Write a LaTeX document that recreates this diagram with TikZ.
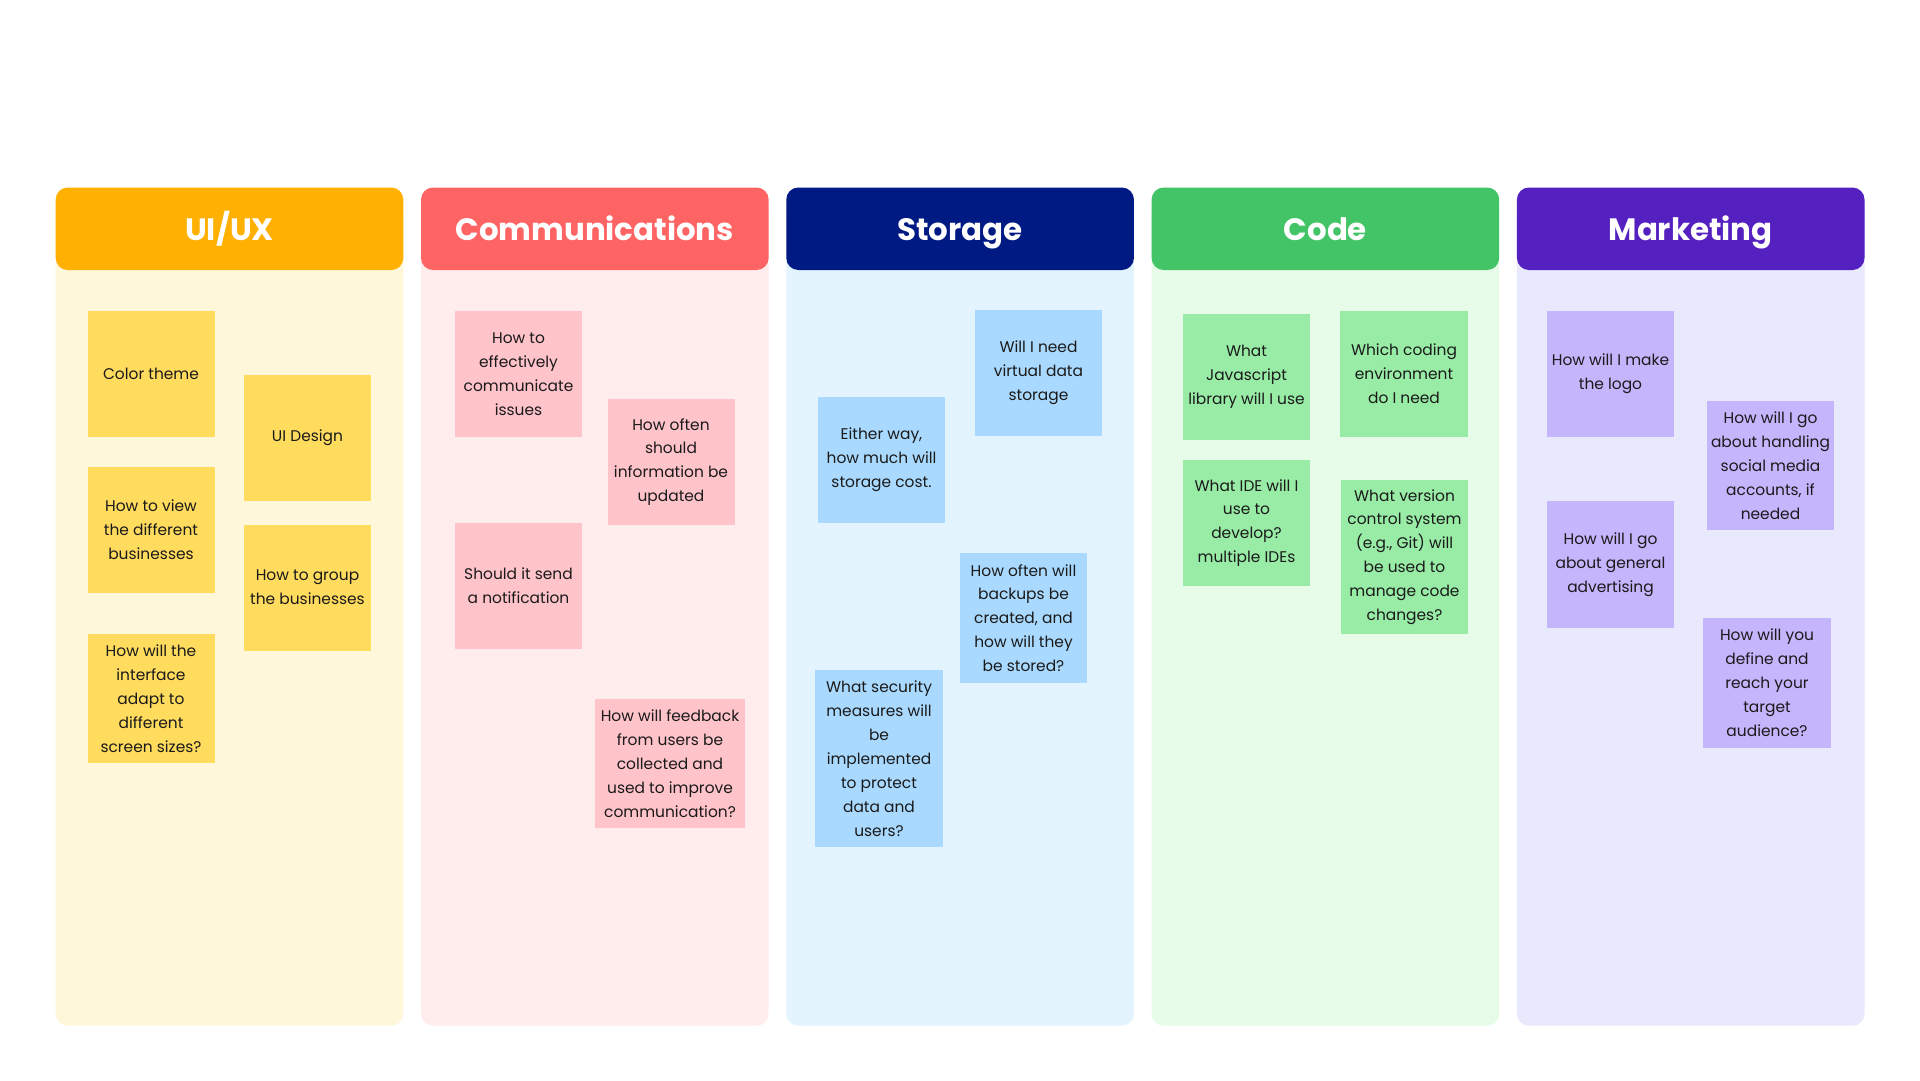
\documentclass[tikz,border=0pt]{standalone}
\usepackage{fontspec}
\setmainfont{Poppins}
\definecolor{uiH}{HTML}{FFB000}
\definecolor{uiB}{HTML}{FFF7D9}
\definecolor{uiN}{HTML}{FFDB5E}
\definecolor{coH}{HTML}{FF6464}
\definecolor{coB}{HTML}{FFEDEE}
\definecolor{coN}{HTML}{FFC3CA}
\definecolor{stH}{HTML}{001A83}
\definecolor{stB}{HTML}{E4F4FF}
\definecolor{stN}{HTML}{A9D9FF}
\definecolor{cdH}{HTML}{43C466}
\definecolor{cdB}{HTML}{E6FCE8}
\definecolor{cdN}{HTML}{98ECA6}
\definecolor{mkH}{HTML}{5520C0}
\definecolor{mkB}{HTML}{E9E9FD}
\definecolor{mkN}{HTML}{C4B5FD}
\definecolor{ink}{HTML}{1A1A1A}
\tikzset{
  colbody/.style={rounded corners=12bp},
  colhead/.style={rounded corners=12bp},
  headtext/.style={anchor=base, text=white, font=\fontsize{31}{36}\selectfont\bfseries, inner sep=0pt},
  note/.style={inner sep=0pt, align=center, text=ink, font=\fontsize{15.5}{24}\selectfont,
    minimum width=127bp, minimum height=126bp},
}
\begin{document}
\begin{tikzpicture}[x=1bp,y=-1bp]
\fill[white] (0,0) rectangle (1920,1080);
\useasboundingbox (0,0) rectangle (1920,1080);
% columns
\fill[uiB,colbody] (55.7,200) rectangle (403.3,1025.7);
\fill[uiH,colhead] (55.7,187.5) rectangle (403.3,270);
\node[headtext] (hui) at (229.5,240) {UI/UX};
\fill[coB,colbody] (421,200) rectangle (768.6,1025.7);
\fill[coH,colhead] (421,187.5) rectangle (768.6,270);
\node[headtext] (hco) at (594.8,240) {Communications};
\fill[stB,colbody] (786.3,200) rectangle (1133.9,1025.7);
\fill[stH,colhead] (786.3,187.5) rectangle (1133.9,270);
\node[headtext] (hst) at (960.1,240) {Storage};
\fill[cdB,colbody] (1151.6,200) rectangle (1499.2,1025.7);
\fill[cdH,colhead] (1151.6,187.5) rectangle (1499.2,270);
\node[headtext] (hcd) at (1325.4,240) {Code};
\fill[mkB,colbody] (1516.9,200) rectangle (1864.5,1025.7);
\fill[mkH,colhead] (1516.9,187.5) rectangle (1864.5,270);
\node[headtext] (hmk) at (1690.7,240) {Marketing};
% UI/UX notes
\node[note, fill=uiN] (n1) at (151,374) {Color theme};
\node[note, fill=uiN] (n2) at (307.5,437.5) {UI Design};
\node[note, fill=uiN] (n3) at (151,530) {How to view\\the different\\businesses};
\node[note, fill=uiN] (n4) at (307.5,587.5) {How to group\\the businesses};
\node[note, fill=uiN, minimum height=129bp] (n5) at (151,698.5) {How will the\\interface\\adapt to\\different\\screen sizes?};
% Communications notes
\node[note, fill=coN] (c1) at (518.5,374) {How to\\effectively\\communicate\\issues};
\node[note, fill=coN] (c2) at (671,462) {How often\\should\\information be\\updated};
\node[note, fill=coN] (c3) at (518.5,586) {Should it send\\a notification};
\node[note, fill=coN, minimum width=150bp, minimum height=129bp] (c4) at (670,763.5) {How will feedback\\from users be\\collected and\\used to improve\\communication?};
% Storage notes
\node[note, fill=stN] (s1) at (1038.5,372.5) {Will I need\\virtual data\\storage};
\node[note, fill=stN] (s2) at (881.5,459.5) {Either way,\\how much will\\storage cost.};
\node[note, fill=stN, minimum height=130bp] (s3) at (1023.5,618) {How often will\\backups be\\created, and\\how will they\\be stored?};
\node[note, fill=stN, minimum width=128bp, minimum height=177bp] (s4) at (879,758.5) {What security\\measures will\\be\\implemented\\to protect\\data and\\users?};
% Code notes
\node[note, fill=cdN] (d1) at (1246.5,377) {What\\Javascript\\library will I use};
\node[note, fill=cdN, minimum width=128bp] (d2) at (1404,374) {Which coding\\environment\\do I need};
\node[note, fill=cdN] (d3) at (1246.5,523) {What IDE will I\\use to\\develop?\\multiple IDEs};
\node[note, fill=cdN, minimum height=154bp] (d4) at (1404.5,557) {What version\\control system\\(e.g., Git) will\\be used to\\manage code\\changes?};
% Marketing notes
\node[note, fill=mkN] (m1) at (1610.5,374) {How will I make\\the logo};
\node[note, fill=mkN, minimum height=129bp] (m2) at (1770.5,465.5) {How will I go\\about handling\\social media\\accounts, if\\needed};
\node[note, fill=mkN, minimum height=127bp] (m3) at (1610.5,564.5) {How will I go\\about general\\advertising};
\node[note, fill=mkN, minimum width=128bp, minimum height=130bp] (m4) at (1767,683) {How will you\\define and\\reach your\\target\\audience?};
\end{tikzpicture}
\end{document}
